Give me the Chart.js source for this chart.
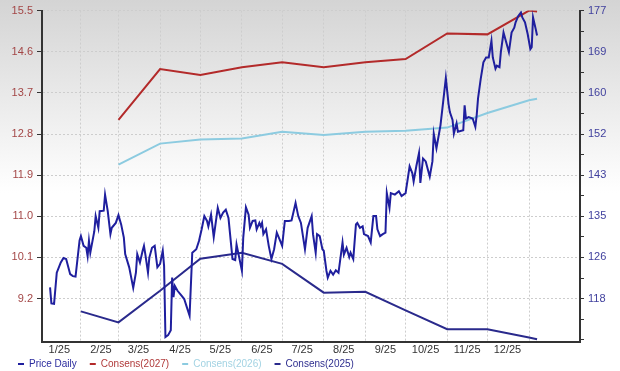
<!DOCTYPE html>
<html>
<head>
<meta charset="utf-8">
<script src="https://cdn.jsdelivr.net/npm/chart.js@4.4.1/dist/chart.umd.min.js"></script>
<style>
  html, body { margin: 0; padding: 0; background: #fff; }
  #wrap { width: 620px; height: 371px; position: relative; }
</style>
</head>
<body>
<div id="wrap"><canvas id="chart"></canvas></div>
<script>
// days counted from 1 Jan 2025
const monthStarts = [0, 31, 59, 90, 120, 151, 181, 212, 243, 273, 304, 334, 365];
const xTickLabels = ['1/25', '2/25', '3/25', '4/25', '5/25', '6/25', '7/25', '8/25', '9/25', '10/25', '11/25', '12/25', ''];

const leftTickLabels = [9.2, 10.1, 11.0, 11.9, 12.8, 13.7, 14.6, 15.5];
const rightTickLabels = [118, 126, 135, 143, 152, 160, 169, 177];

const priceDays = [
  8, 9, 11, 13, 16, 18, 20, 23, 25, 27, 30, 31, 33, 35, 36, 37, 38, 41, 42, 44,
  45, 48, 49, 51, 53, 54, 57, 59, 61, 63, 64, 67, 70, 72, 73, 75, 77, 78, 79, 81,
  82, 84, 86, 88, 90, 92, 93, 94, 96, 98, 99, 100, 101, 103, 106, 108, 110, 112, 114, 117,
  119, 121, 123, 125, 126, 128, 130, 133, 135, 137, 139, 141, 144, 146, 147, 149, 151, 152, 154, 156,
  157, 159, 161, 162, 164, 165, 166, 167, 169, 171, 173, 175, 177, 180, 181, 183, 186, 188, 191, 193,
  195, 198, 200, 203, 204, 206, 207, 209, 211, 212, 214, 215, 217, 219, 221, 223, 226, 227, 229, 231,
  232, 234, 236, 237, 239, 241, 242, 245, 247, 249, 251, 252, 254, 256, 258, 259, 261, 262, 265, 268,
  270, 273, 276, 278, 279, 281, 283, 284, 286, 288, 291, 293, 294, 296, 299, 301, 303, 305, 306, 308,
  309, 311, 312, 316, 317, 318, 320, 323, 325, 326, 327, 329, 331, 333, 335, 337, 338, 340, 341, 343,
  344, 346, 348, 350, 352, 354, 355, 357, 359, 360, 362, 364, 366, 367, 368, 370, 371
];
const priceValues = [
  120.3, 117.0, 116.9, 123.3, 125.4, 126.3, 126.1, 123.0, 122.6, 122.5, 129.9, 130.8, 128.8, 128.4, 126.7, 129.8, 127.4, 131.8, 134.9, 132.5,
  135.9, 136.0, 139.3, 135.9, 131.2, 132.5, 133.5, 135.1, 133.2, 130.5, 127.1, 124.4, 120.2, 123.3, 127.1, 125.4, 127.8, 128.8, 127.1, 123.3,
  126.4, 128.4, 128.8, 124.4, 125.1, 127.8, 124.7, 110.1, 110.5, 111.5, 122.3, 118.3, 120.6, 119.6, 118.6, 117.9, 116.2, 114.5, 127.4, 128.1,
  129.8, 132.2, 134.9, 133.9, 132.8, 135.2, 130.6, 136.6, 134.5, 135.6, 136.2, 134.5, 126.1, 125.9, 129.1, 126.4, 123.7, 130.5, 136.7, 135.2,
  132.5, 133.9, 134.0, 132.2, 133.5, 132.8, 133.5, 131.2, 132.2, 128.8, 126.1, 128.1, 131.5, 129.5, 128.8, 133.9, 133.9, 134.0, 137.6, 134.9,
  133.5, 128.1, 132.5, 134.9, 131.2, 127.4, 131.2, 130.8, 128.1, 127.8, 123.7, 122.3, 123.7, 122.9, 123.8, 123.3, 129.5, 127.0, 128.4, 126.5,
  127.4, 126.1, 133.2, 133.5, 132.5, 132.8, 131.2, 130.8, 129.5, 134.9, 134.9, 132.2, 130.8, 131.2, 131.5, 139.6, 136.6, 139.6, 139.3, 140.0,
  139.0, 139.6, 145.1, 143.7, 142.0, 145.1, 147.8, 141.7, 146.7, 146.1, 143.0, 146.1, 151.8, 148.8, 153.5, 158.3, 163.2, 157.9, 156.2, 154.6,
  151.8, 153.9, 152.2, 152.5, 157.6, 154.9, 155.2, 154.9, 153.2, 155.6, 159.0, 163.0, 166.4, 167.4, 167.4, 170.8, 167.4, 165.1, 165.7, 165.4,
  168.5, 172.5, 170.5, 168.5, 172.5, 173.5, 174.6, 175.9, 176.6, 175.6, 174.6, 172.2, 169.1, 169.5, 175.6, 173.2, 171.9
];

const consDays = [31, 59, 90, 120, 151, 181, 212, 243, 273, 304, 334, 365, 371];
const cons2027 = [null, 13.11, 14.22, 14.09, 14.26, 14.37, 14.26, 14.37, 14.44, 15.00, 14.98, 15.50, 15.48];
const cons2026 = [null, 12.13, 12.59, 12.68, 12.70, 12.85, 12.78, 12.85, 12.87, 12.94, 13.26, 13.54, 13.57];
const cons2025 = [8.92, 8.68, 9.37, 10.07, 10.20, 9.96, 9.33, 9.35, 8.94, 8.53, 8.53, 8.35, 8.31];

const leftMin = 8.25;
const leftMax = 15.5;
const xMin = 2;
const xMax = 403;

// right axis shares the left axis grid: map left range onto right tick labels
const lStep = leftTickLabels[1] - leftTickLabels[0];
const rStep = (rightTickLabels[rightTickLabels.length - 1] - rightTickLabels[0]) / (rightTickLabels.length - 1);
const rightMin = rightTickLabels[0] - (leftTickLabels[0] - leftMin) / lStep * rStep;
const rightMax = rightTickLabels[rightTickLabels.length - 1] + (leftMax - leftTickLabels[leftTickLabels.length - 1]) / lStep * rStep;

const toPoints = (xs, ys) => xs.map((x, i) => ({x, y: ys[i]}));

const font = {family: '"Liberation Sans", Arial, sans-serif', size: 11};
const gridColor = '#cdcdcd';
const axisColor = '#333';

const backdrop = {
  id: 'backdrop',
  beforeDraw(chart) {
    const {ctx, width, height} = chart;
    const g = ctx.createLinearGradient(0, 0, 0, height);
    g.addColorStop(0, '#d4d4d4');
    g.addColorStop(0.52, '#ffffff');
    g.addColorStop(1, '#ffffff');
    ctx.save();
    ctx.fillStyle = g;
    ctx.fillRect(0, 0, width, height);
    ctx.restore();
  }
};

new Chart(document.getElementById('chart').getContext('2d'), {
  type: 'line',
  data: {
    datasets: [
      {
        label: 'Price Daily',
        data: toPoints(priceDays, priceValues),
        yAxisID: 'y2',
        borderColor: '#1f1f9e',
        borderWidth: 2,
        pointRadius: 0,
        textColor: '#2b2b9e'
      },
      {
        label: 'Consens(2027)',
        data: toPoints(consDays, cons2027),
        yAxisID: 'y',
        borderColor: '#b32a2a',
        borderWidth: 2,
        pointRadius: 0,
        textColor: '#b03a3a'
      },
      {
        label: 'Consens(2026)',
        data: toPoints(consDays, cons2026),
        yAxisID: 'y',
        borderColor: '#8ccbe0',
        borderWidth: 2,
        pointRadius: 0,
        textColor: '#a3d3e3'
      },
      {
        label: 'Consens(2025)',
        data: toPoints(consDays, cons2025),
        yAxisID: 'y',
        borderColor: '#2a2a8c',
        borderWidth: 2,
        pointRadius: 0,
        textColor: '#2f2f8f'
      }
    ]
  },
  options: {
    responsive: true,
    maintainAspectRatio: false,
    animation: false,
    devicePixelRatio: 1,
    layout: {padding: {left: 5, right: 0, top: 8, bottom: -8}},
    plugins: {
      tooltip: {enabled: false},
      legend: {
        position: 'bottom',
        align: 'start',
        labels: {
          boxWidth: 6,
          boxHeight: 2,
          padding: 13,
          font: {family: font.family, size: 10},
          generateLabels: (chart) => chart.data.datasets.map((ds, i) => ({
            text: ds.label,
            fillStyle: ds.borderColor,
            strokeStyle: ds.borderColor,
            lineWidth: 0,
            fontColor: ds.textColor,
            hidden: false,
            datasetIndex: i
          }))
        }
      }
    },
    scales: {
      x: {
        type: 'linear',
        position: 'bottom',
        min: xMin,
        max: xMax,
        afterBuildTicks: (scale) => {
          scale.ticks = monthStarts.map(v => ({value: v}));
        },
        afterFit: (scale) => { scale.height = 4; },
        ticks: {
          autoSkip: false,
          maxRotation: 0,
          labelOffset: 20,
          // mirrored so the labels are not clipped to the thin axis box
          mirror: true,
          padding: -15,
          color: '#333',
          font,
          callback: (v, i) => xTickLabels[i]
        },
        grid: {
          color: (c) => (c.tick && c.tick.value < xMin ? 'rgba(0,0,0,0)' : gridColor),
          drawTicks: false
        },
        border: {color: axisColor, width: 2, dash: [2, 2]}
      },
      y: {
        position: 'left',
        min: leftMin,
        max: leftMax,
        afterBuildTicks: (scale) => {
          scale.ticks = leftTickLabels.map(v => ({value: v}));
        },
        afterFit: (scale) => { scale.width = 37; },
        ticks: {
          color: '#a34646',
          font,
          padding: 4,
          callback: (v) => v.toFixed(1)
        },
        grid: {color: gridColor, tickLength: 5, tickColor: axisColor},
        border: {color: axisColor, width: 2, dash: [2, 2]}
      },
      y2: {
        position: 'right',
        min: rightMin,
        max: rightMax,
        afterBuildTicks: (scale) => {
          const minor = rStep / 4;
          const ticks = [];
          for (let v = rightTickLabels[0] - Math.floor((rightTickLabels[0] - rightMin) / minor) * minor; v <= rightMax + 1e-6; v += minor) {
            ticks.push({value: v});
          }
          scale.ticks = ticks;
        },
        afterFit: (scale) => { scale.width = 40; },
        ticks: {
          color: '#41419e',
          font,
          padding: 4,
          callback: (v) => {
            const k = (v - rightTickLabels[0]) / rStep;
            const idx = Math.round(k);
            return Math.abs(k - idx) < 1e-3 && rightTickLabels[idx] !== undefined ? String(rightTickLabels[idx]) : '';
          }
        },
        grid: {drawOnChartArea: false, tickLength: 4, tickColor: axisColor},
        border: {color: axisColor, width: 2}
      }
    }
  },
  plugins: [backdrop]
});
</script>
</body>
</html>
